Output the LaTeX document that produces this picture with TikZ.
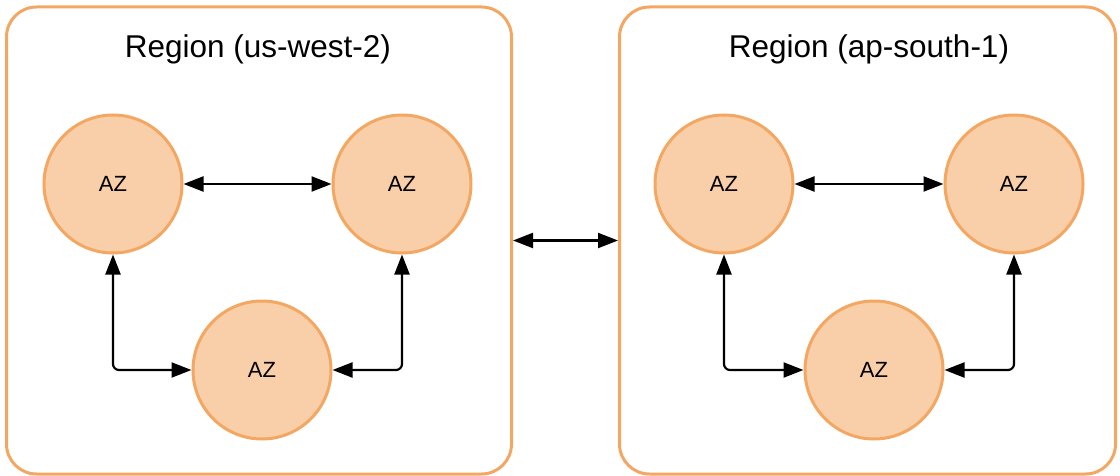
\documentclass[tikz,border=0pt]{standalone}
\usepackage{fontspec}
\setmainfont{Liberation Sans}
\usetikzlibrary{arrows.meta}
\definecolor{azfill}{RGB}{248,207,168}
\definecolor{azline}{RGB}{243,167,98}
\tikzset{
  regionbox/.style={draw=azline, line width=3pt, rounded corners=30pt, inner sep=0pt},
  azcircle/.style={circle, draw=azline, fill=azfill, line width=3pt, minimum size=138pt, inner sep=0pt, font=\fontsize{22}{26}\selectfont},
  title/.style={anchor=base, font=\fontsize{31.5}{36}\selectfont},
  link/.style={line width=2.2pt, {Triangle[length=20pt,width=15pt]}-{Triangle[length=20pt,width=15pt]}, rounded corners=6pt}
}
\begin{document}
\begin{tikzpicture}[x=1pt,y=-1pt]
\useasboundingbox (0,0) rectangle (1120,476);
% regions
\node[regionbox, minimum width=505pt, minimum height=467pt] (r1) at (259,240.5) {};
\node[regionbox, minimum width=496pt, minimum height=467pt] (r2) at (867.5,240.5) {};
\node[title] (t1) at (258,58) {Region (us-west-2)};
\node[title] (t2) at (869,58) {Region (ap-south-1)};
% AZs left
\node[azcircle] (a1) at (113,184) {AZ};
\node[azcircle] (a2) at (402,184) {AZ};
\node[azcircle] (a3) at (262,370) {AZ};
% AZs right
\node[azcircle] (b1) at (724,184) {AZ};
\node[azcircle] (b2) at (1014,184) {AZ};
\node[azcircle] (b3) at (874,370) {AZ};
% connectors left
\draw[link] (a1) -- (a2);
\draw[link] (a3.west) -| (a1.south);
\draw[link] (a3.east) -| (a2.south);
% connectors right
\draw[link] (b1) -- (b2);
\draw[link] (b3.west) -| (b1.south);
\draw[link] (b3.east) -| (b2.south);
% between regions
\draw[link] (r1.east) -- (r2.west);
\end{tikzpicture}
\end{document}
